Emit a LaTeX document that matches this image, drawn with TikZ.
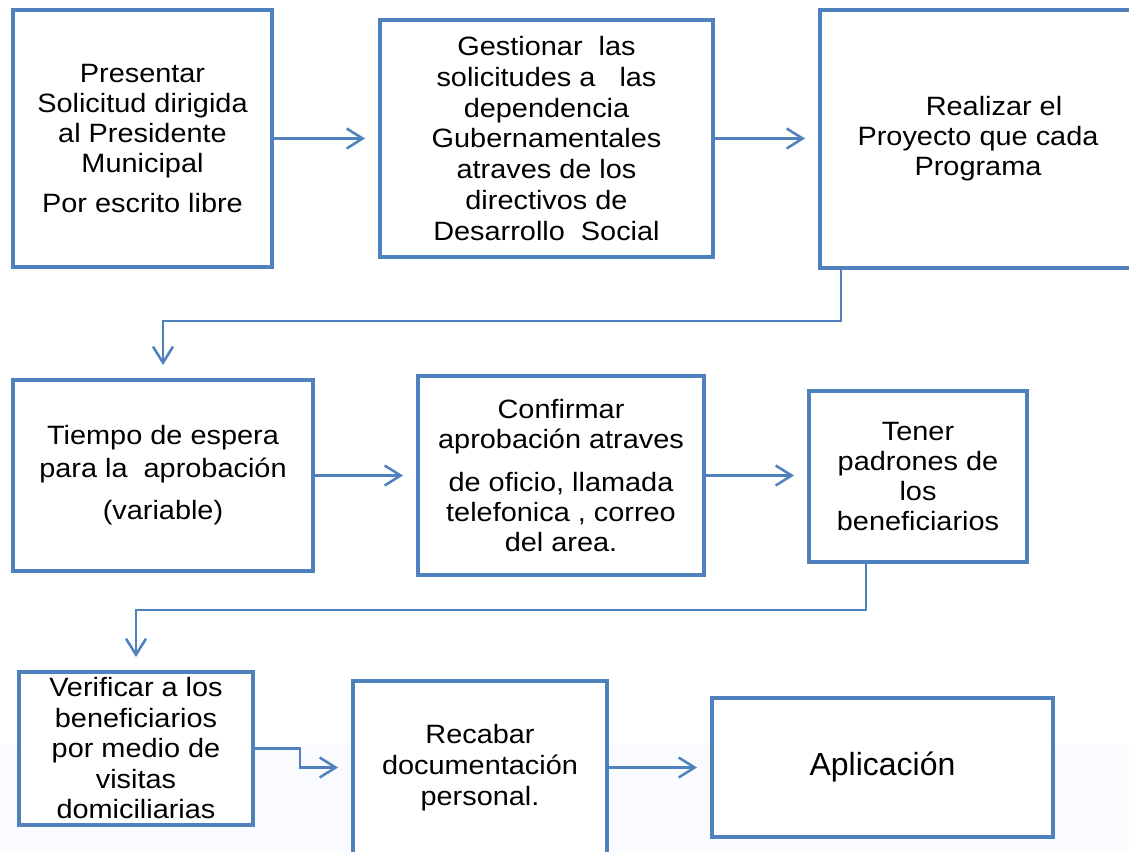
\documentclass[tikz,border=0pt]{standalone}
\usepackage{fontspec}
\setmainfont{Liberation Sans}[FakeStretch=1.09]
\newfontfamily\plainfont{Liberation Sans}
\usetikzlibrary{arrows.meta}
\definecolor{boxblue}{RGB}{79,129,189}
\definecolor{tint}{RGB}{250,251,255}
\tikzset{
  stepbox/.style={draw=boxblue, line width=4.5pt, fill=white, align=center,
    inner sep=0pt, outer sep=0pt, text=black,
    font=\fontsize{26.5}{30}\selectfont},
  arr/.style={draw=boxblue, line width=2.5pt,
    -{Straight Barb[length=16pt,width=20pt]}, shorten >=15pt}
}
\begin{document}
\begin{tikzpicture}[x=1pt,y=-1pt]
\clip (0,0) rectangle (1129,851);
\fill[white] (0,0) rectangle (1129,851);
\fill[tint] (0,745) rectangle (1129,851);

\node[stepbox, minimum width=259pt, minimum height=257pt] (b1) at (142.5,138.5)
  {Presentar\\Solicitud dirigida\\al Presidente\\Municipal\\[10pt]Por escrito libre};
\node[stepbox, minimum width=333pt, minimum height=237pt,
  font=\fontsize{26.5}{30.7}\selectfont] (b2) at (546.5,138.5)
  {Gestionar~~las\\solicitudes a~~~las\\dependencia\\Gubernamentales\\atraves de los\\directivos de\\Desarrollo~~Social};
\node[stepbox, minimum width=316pt, minimum height=258pt] (b3) at (978,139)
  {\hspace*{32pt}Realizar el\\Proyecto que cada\\Programa};

\node[stepbox, minimum width=300pt, minimum height=191pt] (b4) at (163,475.5)
  {Tiempo de espera\\[3pt]para la~~aprobación\\[12pt](variable)};
\node[stepbox, minimum width=286pt, minimum height=199pt] (b5) at (561,475.5)
  {Confirmar\\aprobación atraves\\[13pt]de oficio, llamada\\telefonica , correo\\del area.};
\node[stepbox, minimum width=218pt, minimum height=171pt] (b6) at (918,476.5)
  {Tener\\padrones de\\los\\beneficiarios};

\node[stepbox, minimum width=234pt, minimum height=153pt,
  font=\fontsize{26.5}{30.5}\selectfont] (b7) at (136,748.5)
  {Verificar a los\\beneficiarios\\por medio de\\visitas\\domiciliarias};
\node[stepbox, minimum width=254pt, minimum height=173pt,
  font=\fontsize{26.5}{31}\selectfont] (b8) at (480,767.5)
  {Recabar\\documentación\\personal.};
\node[stepbox, minimum width=341pt, minimum height=139pt,
  font=\plainfont\fontsize{32}{38}\selectfont] (b9) at (882.5,767.5)
  {Aplicación};

\draw[arr] (b1) -- (b2);
\draw[arr] (b2.west -| b2.east) -- (b3.west |- b2.east);
\draw[arr] ([xshift=21pt]b3.south west) -- ++(0,53) -| (b4.north);
\draw[arr] (b4) -- (b5);
\draw[arr] (b5.east) -- (b6.west |- b5.east);
\draw[arr] ([xshift=57pt]b6.south west) -- ++(0,48) -| (b7.north);
\draw[arr] (b7.east) -- ++(47,0) |- (b8.west);
\draw[arr] (b8) -- (b9);
\end{tikzpicture}
\end{document}
